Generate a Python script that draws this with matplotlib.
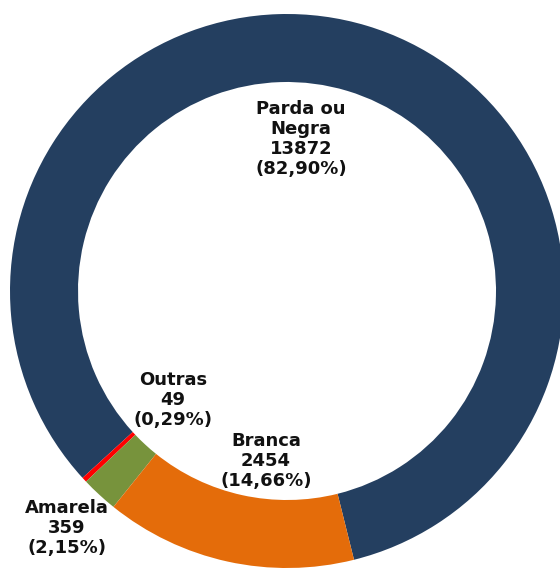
import matplotlib
matplotlib.use('Agg')
import matplotlib.pyplot as plt

categories = ['Parda ou\nNegra', 'Outras', 'Amarela', 'Branca']
values = [13872, 49, 359, 2454]
percents = ['82,90%', '0,29%', '2,15%', '14,66%']
colors = ['#243f60', '#ff0000', '#77933c', '#e46c0a']

# label centres in pixel coords (from top-left)
label_pos = [(301, 139), (173, 400), (67, 528), (266, 461)]

W, H = 560, 568
fig = plt.figure(figsize=(W / 100, H / 100), dpi=100)
ax = fig.add_axes([0, 0, 1, 1])

cx, cy, r = 287, H - 291, 277
ax.pie(values, colors=colors, startangle=-76, counterclock=True,
       center=(cx, cy), radius=r, frame=True,
       wedgeprops=dict(width=r - 209, linewidth=0))
ax.set_xlim(0, W)
ax.set_ylim(0, H)
ax.set_aspect('equal')
ax.axis('off')

for cat, v, p, (x, y) in zip(categories, values, percents, label_pos):
    ax.text(x, H - y, f'{cat}\n{v}\n({p})', ha='center', va='center',
            fontsize=13, fontweight='bold', color='#111111', linespacing=1.12)

fig.savefig('out.png', dpi=100)
